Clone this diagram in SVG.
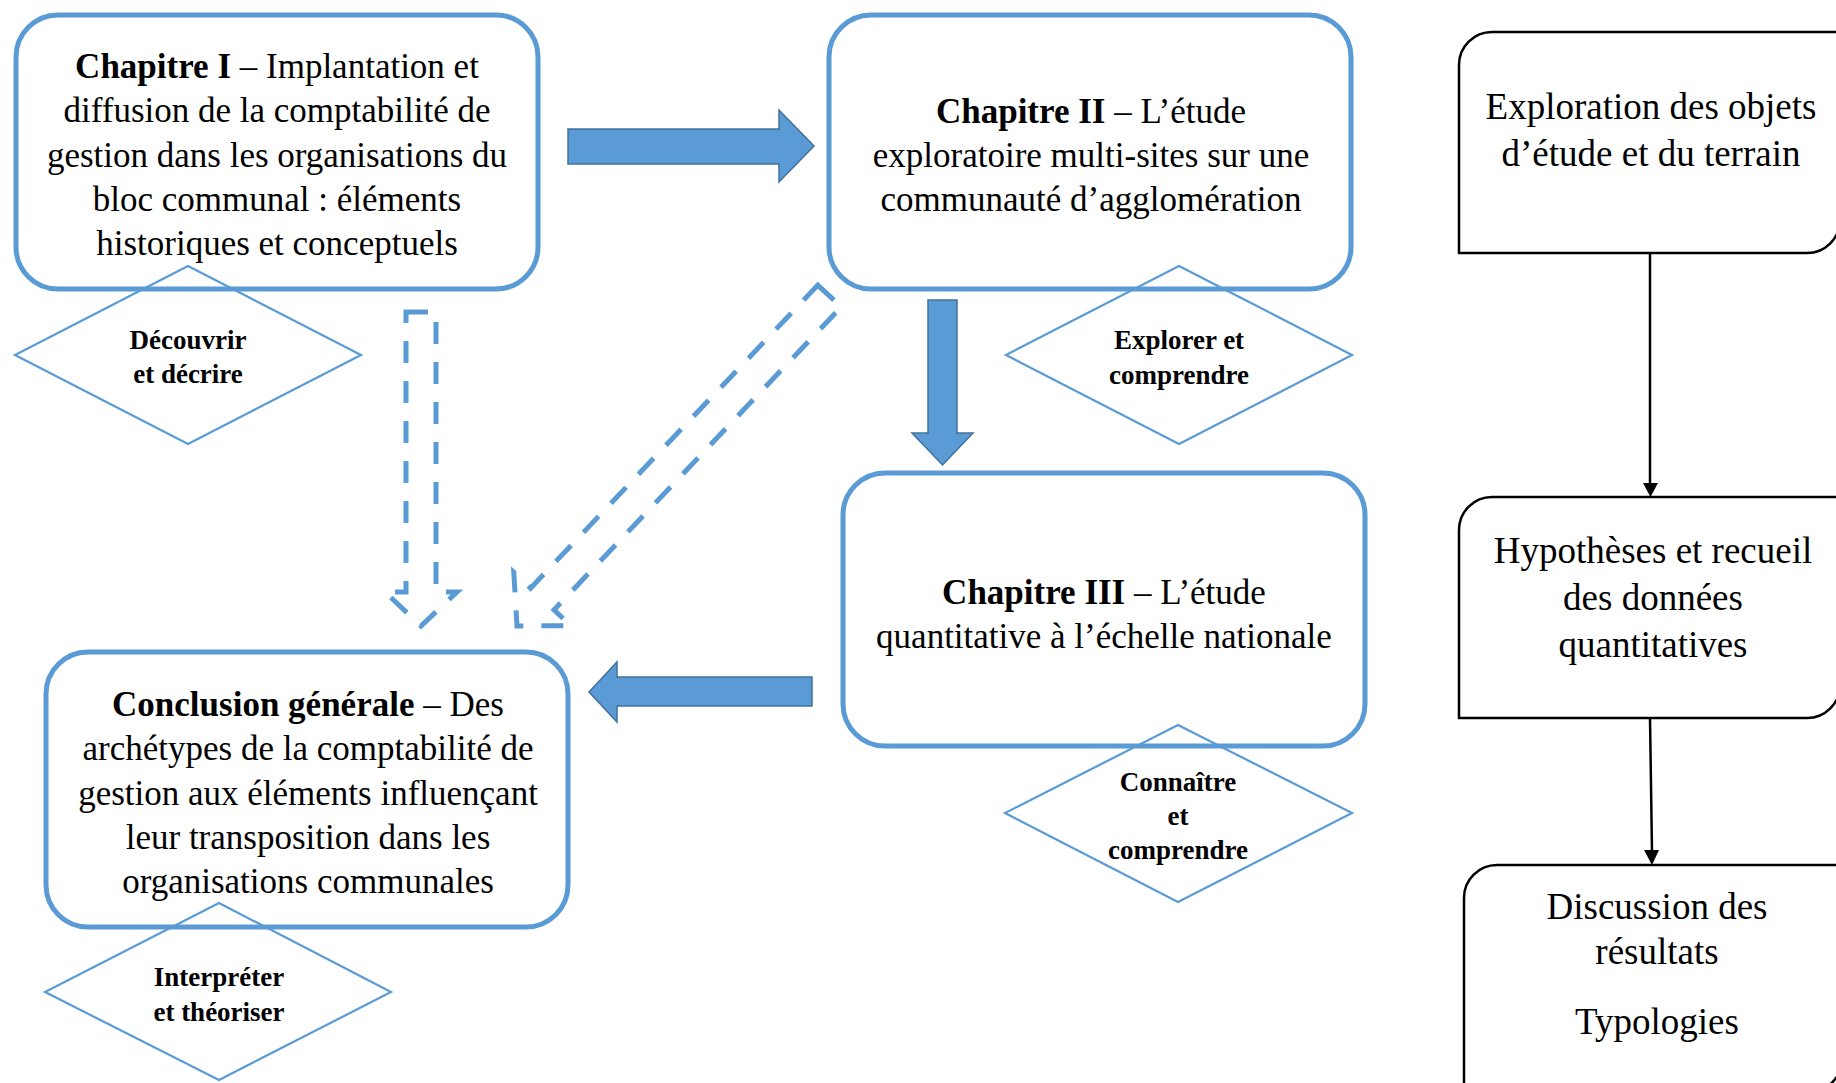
<svg xmlns="http://www.w3.org/2000/svg" width="1836" height="1083" viewBox="0 0 1836 1083">
<style>
.box{fill:#fff;stroke:#5B9BD5;stroke-width:5}
.dia{fill:none;stroke:#5B9BD5;stroke-width:2.2}
.blk{fill:#5B9BD5;stroke:#41719C;stroke-width:1.5;stroke-linejoin:miter}
.dash{fill:none;stroke:#5B9BD5;stroke-width:5;stroke-dasharray:22 18}
.rb{fill:#fff;stroke:#000;stroke-width:2.5}
.t{font-family:"Liberation Serif","Times New Roman",serif;font-size:35px;fill:#000;text-anchor:middle}
.d{font-family:"Liberation Serif","Times New Roman",serif;font-size:27px;font-weight:bold;fill:#000;text-anchor:middle}
.r{font-family:"Liberation Serif","Times New Roman",serif;font-size:37px;fill:#000;text-anchor:middle}
.b{font-weight:bold}
.ln{stroke:#000;stroke-width:2.5;fill:none}
</style>
<rect width="1836" height="1083" fill="#fff"/>

<g id="connectors">
  <polygon class="blk" points="568,129 779,129 779,110 814,146 779,182 779,164 568,164"/>
  <polygon class="blk" points="928,300 957,300 957,433 973,433 942.5,465 912,433 928,433"/>
  <polygon class="blk" points="812,677 812,706 617,706 617,722 589,692 617,662 617,677"/>
  <polygon class="dash" points="406,312 436,312 436,592 457,592 421,626 385,592 406,592"/>
  <polygon class="dash" points="817.8,285.1 841.2,306.9 554,609.9 570.8,625.7 517,626 513.8,572.3 530.6,588.1"/>
  <line class="ln" x1="1650" y1="254" x2="1650" y2="484"/>
  <polygon points="1643,483 1658,483 1650.5,497" fill="#000"/>
  <line class="ln" x1="1650" y1="718" x2="1652" y2="851"/>
  <polygon points="1644,850 1659,850 1652,865" fill="#000"/>
</g>

<g id="chapitre1">
  <rect class="box" x="16" y="15" width="522" height="274" rx="42" ry="42"/>
  <text class="t" x="277" y="78"><tspan class="b">Chapitre I</tspan> – Implantation et</text>
  <text class="t" x="277" y="122">diffusion de la comptabilité de</text>
  <text class="t" x="277" y="167">gestion dans les organisations du</text>
  <text class="t" x="277" y="211">bloc communal : éléments</text>
  <text class="t" x="277" y="255">historiques et conceptuels</text>
</g>

<g id="chapitre2">
  <rect class="box" x="829" y="15" width="522" height="274" rx="42" ry="42"/>
  <text class="t" x="1091" y="123"><tspan class="b">Chapitre II</tspan> – L’étude</text>
  <text class="t" x="1091" y="167">exploratoire multi-sites sur une</text>
  <text class="t" x="1091" y="211">communauté d’agglomération</text>
</g>

<g id="chapitre3">
  <rect class="box" x="843" y="473" width="522" height="273" rx="42" ry="42"/>
  <text class="t" x="1104" y="604"><tspan class="b">Chapitre III</tspan> – L’étude</text>
  <text class="t" x="1104" y="648">quantitative à l’échelle nationale</text>
</g>

<g id="conclusion">
  <rect class="box" x="46" y="652" width="522" height="275" rx="42" ry="42"/>
  <text class="t" x="308" y="716"><tspan class="b">Conclusion générale</tspan> – Des</text>
  <text class="t" x="308" y="760">archétypes de la comptabilité de</text>
  <text class="t" x="308" y="805">gestion aux éléments influençant</text>
  <text class="t" x="308" y="849">leur transposition dans les</text>
  <text class="t" x="308" y="893">organisations communales</text>
</g>

<g id="diamond-decouvrir">
  <polygon class="dia" points="188,266 361,355 188,444 15,355"/>
  <text class="d" x="188" y="349">Découvrir</text>
  <text class="d" x="188" y="383">et décrire</text>
</g>

<g id="diamond-explorer">
  <polygon class="dia" points="1179,266 1352,355 1179,444 1006,355"/>
  <text class="d" x="1179" y="349">Explorer et</text>
  <text class="d" x="1179" y="384">comprendre</text>
</g>

<g id="diamond-connaitre">
  <polygon class="dia" points="1178,725 1352,813 1178,902 1005,813"/>
  <text class="d" x="1178" y="791">Connaître</text>
  <text class="d" x="1178" y="825">et</text>
  <text class="d" x="1178" y="859">comprendre</text>
</g>

<g id="diamond-interpreter">
  <polygon class="dia" points="219,903 391,992 219,1080 45,992"/>
  <text class="d" x="219" y="986">Interpréter</text>
  <text class="d" x="219" y="1021">et théoriser</text>
</g>

<g id="exploration">
  <path class="rb" d="M1459,253 L1459,65 A33,33 0 0 1 1492,32 L1840,32 L1840,220 A33,33 0 0 1 1807,253 Z"/>
  <text class="r" x="1651" y="119">Exploration des objets</text>
  <text class="r" x="1651" y="166">d’étude et du terrain</text>
</g>

<g id="hypotheses">
  <path class="rb" d="M1459,718 L1459,530 A33,33 0 0 1 1492,497 L1840,497 L1840,685 A33,33 0 0 1 1807,718 Z"/>
  <text class="r" x="1653" y="563">Hypothèses et recueil</text>
  <text class="r" x="1653" y="610">des données</text>
  <text class="r" x="1653" y="657">quantitatives</text>
</g>

<g id="discussion">
  <path class="rb" d="M1464,1095 L1464,898 A33,33 0 0 1 1497,865 L1842,865 L1842,1059 A33,33 0 0 1 1809,1092 Z"/>
  <text class="r" x="1657" y="919">Discussion des</text>
  <text class="r" x="1657" y="964">résultats</text>
  <text class="r" x="1657" y="1034">Typologies</text>
</g>
</svg>
